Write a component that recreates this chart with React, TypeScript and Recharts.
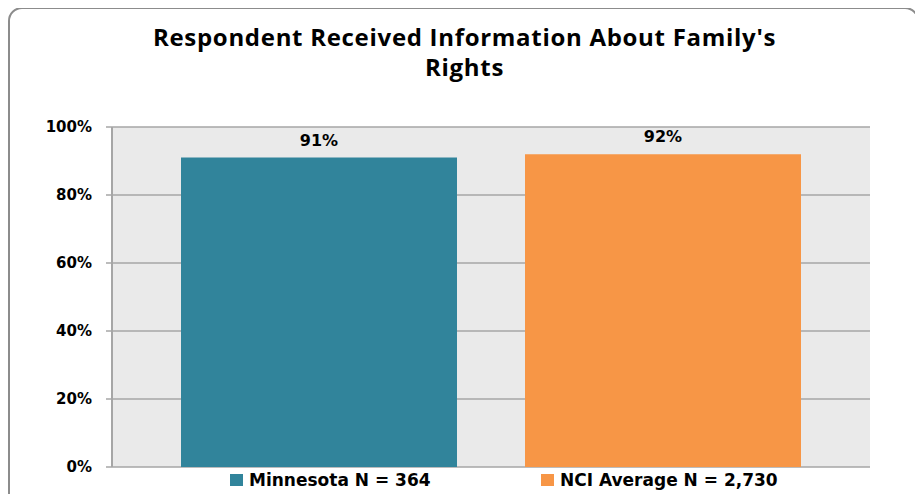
import React from 'react';
import { BarChart, Bar, XAxis, YAxis, CartesianGrid, LabelList } from 'recharts';

// one category, two series (state vs. national average)
const categories = [''];
const minnesotaValues = [91];
const nciValues = [92];
const seriesNames = ['Minnesota N = 364', 'NCI Average N = 2,730'];
const seriesColors = ['#31849B', '#F79646'];
const yTicks = [0, 20, 40, 60, 80, 100];

const data = categories.map((name, i) => ({
  name,
  mn: minnesotaValues[i],
  nci: nciValues[i],
}));

const FONT = '"DejaVu Sans", Verdana, sans-serif';

const App: React.FC = () => {
  return (
    <div
      style={{
        position: 'relative',
        width: 923,
        height: 502,
        margin: -8,
        overflow: 'hidden',
        background: '#FFFFFF',
      }}
    >
      {/* outer rounded frame */}
      <div
        style={{
          position: 'absolute',
          left: 8,
          top: 7,
          width: 911,
          height: 510,
          border: '2px solid #8C8C8C',
          borderRadius: 14,
          boxSizing: 'border-box',
        }}
      />
      <div
        style={{
          position: 'absolute',
          left: 8,
          top: 22,
          width: 913,
          textAlign: 'center',
          fontFamily: '"Open Sans", sans-serif',
          fontWeight: 700,
          fontSize: 24,
          letterSpacing: 0.7,
          lineHeight: '30px',
          color: '#000000',
        }}
      >
        Respondent Received Information About Family's
        <br />
        Rights
      </div>
      <div style={{ position: 'absolute', left: 0, top: 0 }}>
        <BarChart
          width={923}
          height={502}
          data={data}
          margin={{ top: 127, right: 53, bottom: 35, left: 0 }}
          barCategoryGap={69}
          barGap={68}
        >
          <CartesianGrid vertical={false} stroke="#A6A6A6" strokeWidth={1.5} fill="#EAEAEA" />
          <XAxis
            dataKey="name"
            tick={false}
            tickLine={false}
            height={0}
            axisLine={{ stroke: '#A6A6A6', strokeWidth: 2 }}
          />
          <YAxis
            width={112}
            domain={[0, 100]}
            ticks={yTicks}
            tickFormatter={(v: number) => `${v}%`}
            tickSize={6}
            tickMargin={14}
            axisLine={{ stroke: '#A6A6A6', strokeWidth: 2 }}
            tickLine={{ stroke: '#A6A6A6', strokeWidth: 1.5 }}
            tick={{ fill: '#000000', fontFamily: FONT, fontWeight: 700, fontSize: 15 }}
          />
          <Bar dataKey="mn" fill={seriesColors[0]} isAnimationActive={false}>
            <LabelList
              dataKey="mn"
              position="top"
              offset={12}
              formatter={(v: any) => `${v}%`}
              style={{ fill: '#000000', fontFamily: FONT, fontWeight: 700, fontSize: 16 }}
            />
          </Bar>
          <Bar dataKey="nci" fill={seriesColors[1]} isAnimationActive={false}>
            <LabelList
              dataKey="nci"
              position="top"
              offset={12}
              formatter={(v: any) => `${v}%`}
              style={{ fill: '#000000', fontFamily: FONT, fontWeight: 700, fontSize: 16 }}
            />
          </Bar>
        </BarChart>
      </div>
      {/* legend under the plot */}
      {seriesNames.map((name, i) => (
        <div
          key={name}
          style={{
            position: 'absolute',
            left: i === 0 ? 230 : 541,
            top: 470,
            display: 'flex',
            alignItems: 'center',
            fontFamily: FONT,
            fontWeight: 700,
            fontSize: 17,
            color: '#000000',
            whiteSpace: 'nowrap',
          }}
        >
          <span
            style={{
              display: 'inline-block',
              width: 13,
              height: 12,
              background: seriesColors[i],
              marginRight: 6,
            }}
          />
          {name}
        </div>
      ))}
    </div>
  );
};

export default App;
